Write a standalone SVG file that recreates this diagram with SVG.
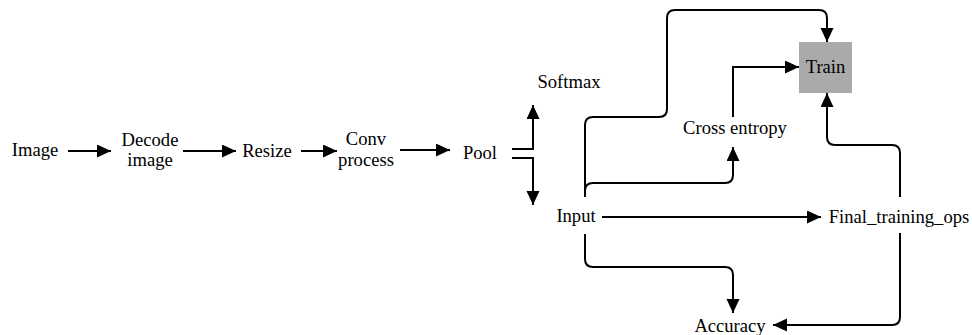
<svg xmlns="http://www.w3.org/2000/svg" width="972" height="335" viewBox="0 0 972 335">
<style>
text{font-family:Liberation Serif,Times New Roman,serif;font-size:18.6px;fill:#000;text-anchor:middle}
.c{fill:none;stroke:#000;stroke-width:2}
</style>
<defs>
<marker id="a" markerUnits="userSpaceOnUse" markerWidth="15" markerHeight="14" refX="14" refY="6.5" orient="auto"><path d="M0,0L14,6.5L0,13z" fill="#000"/></marker>
</defs>
<rect width="972" height="335" fill="#fff"/>
<g id="connectors">
<path class="c" marker-end="url(#a)" d="M68,151H111"/>
<path class="c" marker-end="url(#a)" d="M183,151H236"/>
<path class="c" marker-end="url(#a)" d="M301,151H337"/>
<path class="c" marker-end="url(#a)" d="M400,150H450"/>
<path class="c" marker-end="url(#a)" d="M512,149H533V105"/>
<path class="c" marker-end="url(#a)" d="M512,158H533V205"/>
<path class="c" marker-end="url(#a)" d="M585,193V125Q585,117 593,117H659Q667,117 667,109V18Q667,10 675,10H819Q827,10 827,18V42"/>
<path class="c" marker-end="url(#a)" d="M585,197V191Q585,183 593,183H725Q733,183 733,175V147"/>
<path class="c" marker-end="url(#a)" d="M733,117V67H799"/>
<path class="c" marker-end="url(#a)" d="M900,197V153Q900,145 892,145H835Q827,145 827,137V93"/>
<path class="c" marker-end="url(#a)" d="M602,217H821"/>
<path class="c" marker-end="url(#a)" d="M585,234V259Q585,267 593,267H725Q733,267 733,275V313"/>
<path class="c" marker-end="url(#a)" d="M900,233V317Q900,325 892,325H773"/>
</g>
<g font-family="Liberation Serif, Times New Roman, serif" font-size="18.6">
<g id="image"><text x="35" y="156">Image</text></g>
<g id="decode"><text x="150" y="146">Decode</text><text x="150" y="166">image</text></g>
<g id="resize"><text x="267" y="157">Resize</text></g>
<g id="conv"><text x="366" y="145">Conv</text><text x="366" y="166">process</text></g>
<g id="pool"><text x="480" y="159">Pool</text></g>
<g id="softmax"><text x="569" y="88">Softmax</text></g>
<g id="input"><text x="576" y="222">Input</text></g>
<g id="cross"><text x="735" y="134">Cross entropy</text></g>
<g id="train"><rect x="799" y="42" width="53" height="51" fill="#aaaaaa"/><text x="825.5" y="73">Train</text></g>
<g id="final"><text x="899" y="223">Final_training_ops</text></g>
<g id="accuracy"><text x="730" y="332">Accuracy</text></g>
</g>
</svg>
